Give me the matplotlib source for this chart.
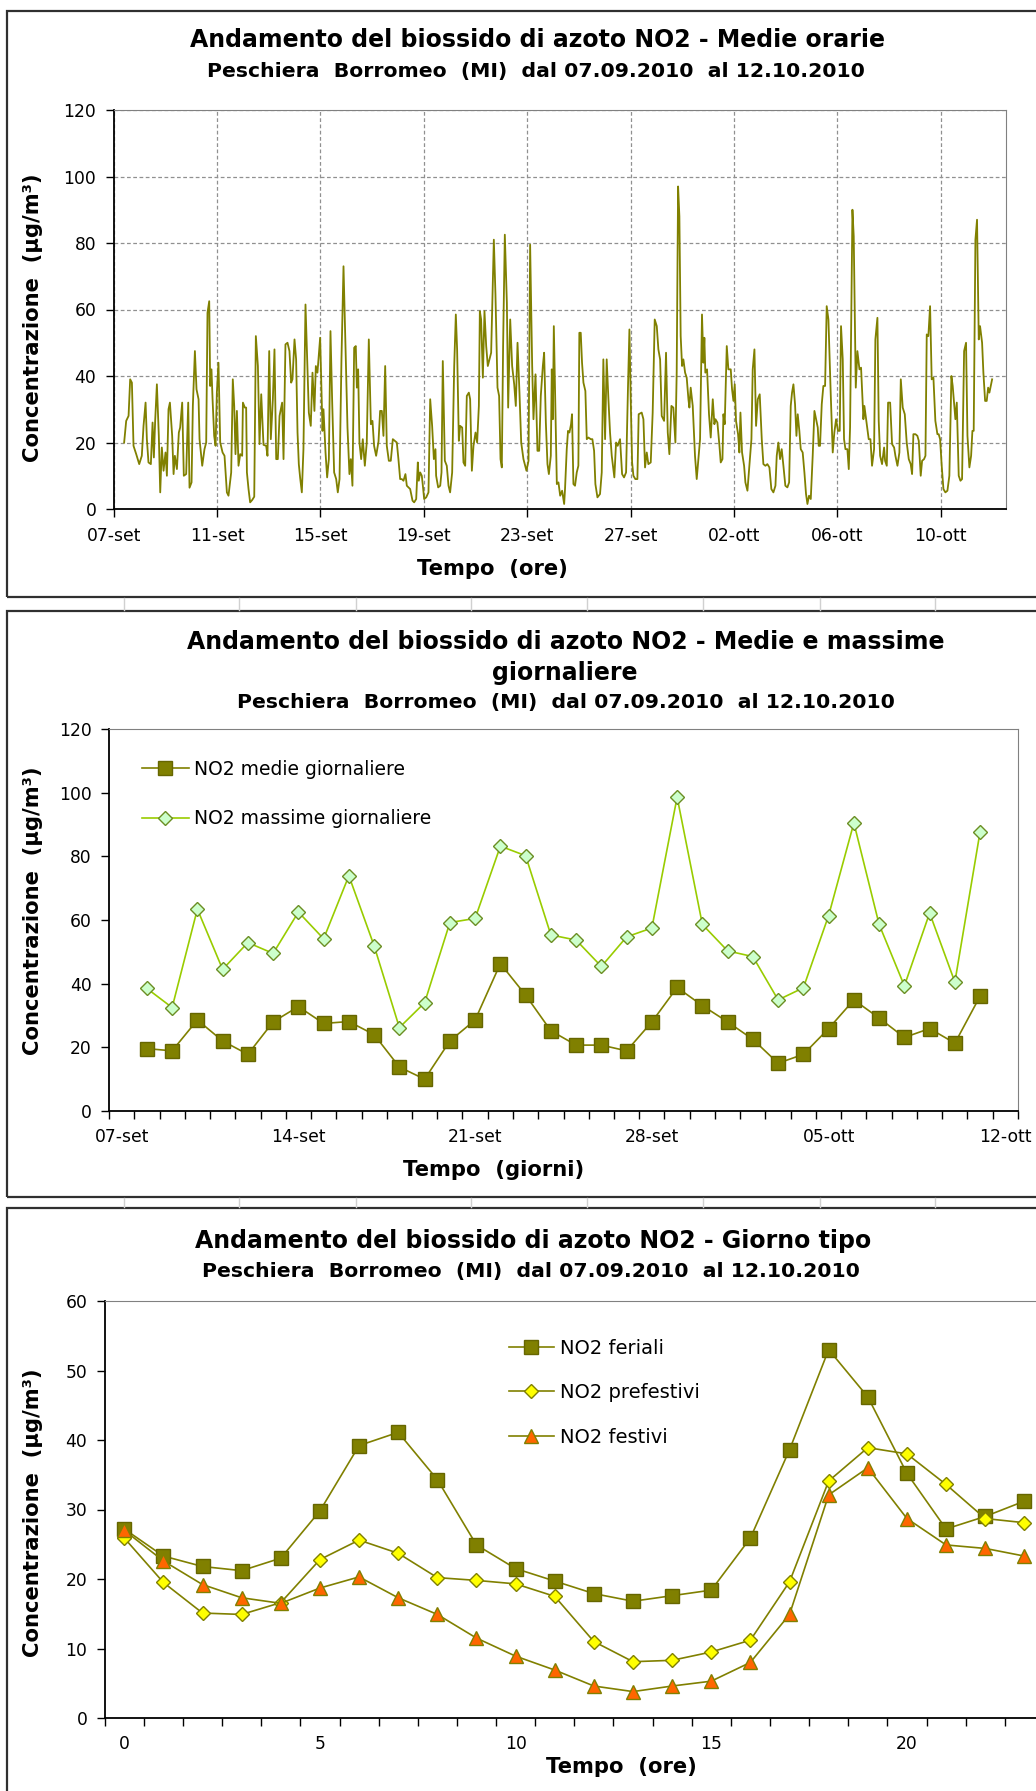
import numpy as np
import matplotlib
matplotlib.use('Agg')
from matplotlib import pyplot as plt
from matplotlib.patches import Rectangle
from matplotlib.lines import Line2D

# ---- data ----
# panel 1: hourly means (hours from 07-set 00:00)
ore_orarie = [
    9.7, 11.6, 13.8, 15.3, 16.9, 18.4, 20.9, 23.7, 26.1, 27.7, 29.6, 30.8, 32.3, 34.5, 36.1, 37.3, 38.5, 40.1,
    41.9, 43.2, 44.7, 46.3, 48.1, 49.4, 50.9, 52.2, 54.3, 55.6, 56.8, 58.7, 60.5, 61.7, 63.6, 65.1, 67.3, 69.2,
    70.4, 72.3, 73.5, 75.4, 76.9, 78.8, 79.7, 82.2, 84.3, 85.9, 87.1, 88.7, 89.6, 90.8, 91.8, 93.3, 94.6, 95.8,
    97.3, 98.9, 101.1, 102.9, 105.1, 106.6, 109.1, 110.6, 111.9, 113.1, 114.4, 115.9, 117.5, 119.3, 120.0, 121.8,
    123.0, 123.7, 125.2, 126.7, 128.6, 130.5, 132.0, 133.9, 135.4, 137.0, 139.1,
    141.6, 142.8, 144.4, 145.9, 147.8, 149.3, 150.9, 152.4, 154.0, 156.4, 157.7, 159.5, 161.4, 163.2, 164.8, 166.0,
    167.9, 169.4, 170.7, 171.9, 173.1, 174.7, 176.2, 178.1, 179.3, 181.2, 183.0, 184.6, 186.4, 187.7, 189.2, 190.5,
    191.7, 192.9, 193.9, 194.8, 196.7, 198.2, 199.8, 201.3, 202.9, 204.7, 206.6, 208.1, 209.7, 211.5, 213.4, 215.2,
    217.1, 218.9, 220.2, 221.7, 223.3, 224.8, 225.8, 227.0, 228.2, 229.8, 231.3, 233.2, 235.0, 236.9, 238.8, 240.3,
    241.8, 243.7, 245.9, 247.4, 249.0, 250.5, 252.1, 253.6, 255.5, 257.3, 259.2, 261.0, 262.9, 264.4, 266.0, 267.5,
    269.1, 270.9, 272.2, 275.3, 277.5, 279.0, 280.9,
    282.4, 283.3, 284.6, 286.1, 287.1, 288.3, 290.2, 292.3, 293.9, 295.7, 297.3, 298.8, 299.4, 301.3, 303.2, 304.4,
    305.6, 307.5, 309.3, 310.9, 312.4, 314.3, 316.2, 317.7, 318.9, 320.5, 321.7, 323.6, 324.8, 326.4, 327.9, 329.8,
    331.0, 332.6, 334.1, 336.0, 337.5, 339.1, 340.0, 341.2, 342.8, 344.3, 345.9, 347.4, 349.0, 350.5, 353.0, 354.5,
    356.4, 357.9, 359.2, 360.4, 361.6, 363.2, 365.1, 366.3, 368.2, 370.0, 371.9, 373.4, 375.0, 376.8, 378.4, 380.5,
    382.1, 383.3, 385.2, 386.7, 388.6, 389.8, 391.7, 393.5, 395.1, 396.6, 398.5, 399.7, 401.3, 402.8, 404.1, 405.9,
    406.8, 407.8, 408.7, 409.9, 411.5, 413.0, 414.6, 416.4, 418.3,
    419.1, 420.7, 421.9, 423.2, 424.7, 425.6, 426.9, 428.4, 430.0, 431.5, 432.4, 433.7, 434.9, 436.2, 438.0, 439.3,
    440.8, 443.0, 444.5, 446.1, 447.3, 449.2, 451.6, 453.2, 454.7, 456.3, 457.8, 459.4, 460.9, 462.5, 464.9, 466.5,
    468.0, 470.2, 472.1, 473.9, 475.8, 477.6, 478.9, 480.1, 481.4, 482.6, 484.4, 486.3, 487.5, 490.3, 491.9, 493.4,
    495.0, 496.5, 498.7, 500.5, 502.4, 504.3, 505.8, 507.4, 508.9, 511.1, 512.9, 514.5, 516.0, 517.9, 519.7, 521.6,
    522.8, 524.1, 525.3, 526.5, 527.8, 529.0, 530.6, 532.1, 533.7, 534.6, 535.8, 537.7, 539.8, 541.4, 542.6, 544.5,
    546.3, 547.6, 548.5, 549.4, 551.0, 552.8, 554.4, 556.3, 557.8,
    558.8, 560.6, 562.5, 563.7, 565.3, 566.2, 567.4, 569.3, 570.8, 573.0, 574.2, 575.5, 576.7, 577.9, 579.8, 581.0,
    582.0, 583.5, 585.4, 586.6, 588.5, 590.3, 592.2, 593.4, 595.0, 596.5, 598.1, 599.9, 601.8, 603.3, 605.2, 607.0,
    608.9, 610.7, 612.6, 614.5, 615.7, 617.2, 618.8, 620.3, 621.9, 623.7, 625.6, 627.2, 628.7, 629.9, 631.2, 632.7,
    634.0, 635.2, 636.7, 638.0, 639.8, 641.4, 642.9, 644.2, 645.7, 647.3, 649.1, 650.7, 652.2, 653.8, 654.7, 655.9,
    657.5, 659.0, 660.6, 662.1, 663.7, 665.8, 667.7, 669.2, 670.8, 672.6, 674.2, 675.4, 677.0, 678.2, 679.5, 681.3,
    682.6, 683.8, 686.0, 687.2, 689.1, 690.6, 692.5, 694.0, 696.2, 697.1,
    698.7, 699.9, 701.1, 702.7, 704.2, 706.1, 707.3, 709.2, 710.4, 711.7, 713.5, 715.4, 716.3, 717.9, 719.1, 721.0,
    722.8, 724.7, 725.9, 727.8, 729.6, 730.9, 732.7, 734.6, 736.4, 738.3, 740.1, 741.4, 742.6, 744.5, 746.3, 747.6,
    749.4, 750.7, 752.5, 753.8, 755.0, 756.5, 758.1, 759.6, 761.2, 763.0, 764.9, 766.1, 767.4, 768.9, 770.5, 772.3,
    774.2, 776.0, 777.9, 779.1, 780.4, 781.6, 782.9, 784.7, 786.3, 787.8, 789.7, 791.5, 792.8, 794.6, 796.2, 797.4,
    798.6, 800.2, 801.7, 803.3, 804.5, 806.4, 807.6, 809.2, 810.7, 812.0, 813.2, 814.4, 815.7]
no2_orario = [
    20, 26.5, 28, 39, 38, 19, 16.5, 13.5, 16, 25, 32, 21, 14, 13.5, 26, 15.5, 26.5, 37.5,
    22, 5, 18.5, 11.5, 17, 10, 30, 32, 22, 10.5, 16, 12, 23, 24.5, 32, 10, 10.5, 32,
    6.4, 8, 31, 47.5, 36, 33, 21, 13, 18, 20, 59, 62.5, 37, 42, 33, 22, 19, 35,
    44, 20, 17, 16, 5, 4, 11, 39, 31, 16.5, 29.5, 13, 16.5, 16, 32, 30.5,
    30.5, 11, 6, 2, 2.7, 3.7, 52, 43, 19.5, 34.5, 19.3,
    19, 16, 47.5, 21, 33, 48, 15, 15, 28, 32, 15, 49.5, 50, 47.5, 38, 39,
    51, 45, 23, 13.5, 9.5, 5, 18, 61.5, 49, 29, 25, 41, 29.5, 43, 41, 46.5,
    51.5, 36, 23.5, 30, 17, 9.5, 15, 53.5, 32, 11, 9, 5, 9, 45, 73, 49,
    24.5, 10.5, 15, 7, 48.5, 49, 36.5, 42, 20, 15, 21, 13, 20, 51, 25.5, 26.5,
    19, 16, 20.3, 29.5, 29.5, 22, 43, 19, 14.5, 14.5, 21, 20.5, 20, 15, 9, 9,
    8.5, 10.5, 7, 6, 2.5, 2, 3,
    14, 8.5, 11, 10, 7, 3, 3.5, 5, 33, 25, 15, 18, 10, 6.5, 7, 11,
    44.5, 14.5, 13, 7, 5, 11, 43, 58.5, 48, 20.5, 25, 24.5, 14, 13, 34, 35,
    33, 11.5, 19, 23, 20, 31, 59.5, 57, 39.5, 59.5, 49, 43, 45, 47, 81, 64.5,
    36.5, 34, 15, 12.5, 49, 82.5, 62, 30.5, 57, 43, 37.5, 31, 50, 35, 20, 15,
    13, 11.5, 14.5, 79.5, 43, 27, 40.5, 17.5, 17.5, 34, 43, 47, 26, 13.5, 10.5, 16,
    42, 27, 55, 35, 7.5, 8, 4, 5.5, 1.5,
    6, 18, 23.5, 23, 25.5, 28.5, 7.5, 7, 11, 13, 53, 53, 44, 38, 35.5, 21,
    21.5, 21, 21, 17.5, 7.5, 3.5, 4.5, 11, 45, 21, 45, 33, 23, 16, 9.5, 20,
    19, 21, 10.5, 9.5, 11, 37, 54, 33, 14, 10, 9, 9, 28.5, 29, 27, 12.5,
    17, 13.5, 14, 29, 57, 55, 48, 45, 28, 26.5, 47, 23, 16.5, 31, 30.5, 20,
    41, 97, 88, 52, 43, 45, 41, 39.5, 33, 30.5, 36.5, 31, 16, 9, 13.5, 21,
    58.5, 44, 51.5, 41, 42, 28.5, 21.5, 33, 25.5,
    27, 26, 19, 14, 15, 28.5, 25.5, 49, 42, 42, 36, 32.5, 37.5, 26.5, 22.5, 17,
    29, 17, 13, 8, 5.5, 13, 21, 42, 48, 25, 33, 34.5, 21, 13.5, 13, 13.5,
    12.5, 6, 5, 7, 16, 20, 15, 18, 13, 7, 6.5, 8, 31, 35, 37.5, 31.5,
    22, 28.5, 23.5, 18, 17, 11, 4.5, 1.5, 4, 3, 16, 29.5, 27, 24.5, 19, 19,
    31.5, 37, 37, 61, 57, 35, 17, 23, 27, 23.5, 23.5, 55, 45, 21, 18, 18,
    12, 24.5, 90, 82, 36.5, 47.5, 42, 42.5, 27, 31,
    27, 24, 21, 21, 13, 18, 51, 57.5, 26.5, 16, 13.5, 18.5, 14.5, 13, 32, 32,
    19.5, 18.5, 16, 13, 17, 39, 30.5, 28.5, 20, 15, 13.5, 10.5, 22.5, 22.5, 22, 20.5,
    10, 14.5, 15, 16, 52.5, 52, 61, 39, 39.5, 26.5, 22.5, 22.5, 21, 13, 6, 5,
    5.5, 10, 40, 37, 32, 27, 32, 10, 8.5, 9, 47.5, 50, 22, 12.5, 16, 23.5,
    23.5, 81, 87, 51, 55, 50, 41, 32.5, 32.5, 36.5, 35, 37, 39]
tick_ore = [0, 96, 192, 288, 384, 480, 576, 672, 768]
etichette_ore = ['07-set', '11-set', '15-set', '19-set', '23-set', '27-set', '02-ott', '06-ott', '10-ott']

# panel 2: daily means and maxima (day index from 07-set)
giorni = list(range(1, 35))
medie_giorn = [19.6, 18.9, 28.6, 22.0, 17.8, 28.0, 32.8, 27.5, 28.1, 24.0, 13.8, 10.0, 22.0, 28.6, 46.3, 36.4, 25.2,
               20.7, 20.7, 18.9, 28.0, 38.8, 33.1, 28.0, 22.5, 15.0, 17.8, 25.9, 34.9, 29.2, 23.1, 25.9, 21.3, 36.1]
massime_giorn = [38.5, 32.5, 63.4, 44.5, 52.9, 49.5, 62.5, 54.1, 73.9, 51.9, 26.2, 34.0, 59.2, 60.5, 83.2, 80.2, 55.3,
                 53.7, 45.4, 54.7, 57.5, 98.6, 58.6, 50.3, 48.5, 34.9, 38.7, 61.4, 90.5, 58.6, 39.3, 62.2, 40.5, 87.8]
tick_giorni = [0, 7, 14, 21, 28, 35]
etichette_giorni = ['07-set', '14-set', '21-set', '28-set', '05-ott', '12-ott']

# panel 3: typical day
ore_giorno = list(range(24))
feriali = [27.2, 23.3, 21.8, 21.2, 23.0, 29.8, 39.2, 41.1, 34.3, 24.9, 21.5, 19.7, 17.9, 16.8, 17.6, 18.4, 25.9,
           38.6, 53.0, 46.2, 35.2, 27.2, 29.0, 31.2]
prefestivi = [25.9, 19.5, 15.1, 14.9, 16.6, 22.8, 25.6, 23.7, 20.2, 19.8, 19.3, 17.5, 11.0, 8.1, 8.3, 9.5, 11.2,
              19.6, 34.1, 38.9, 38.0, 33.6, 28.7, 28.1]
festivi = [27.0, 22.6, 19.2, 17.3, 16.5, 18.7, 20.3, 17.3, 14.9, 11.5, 8.9, 6.9, 4.6, 3.8, 4.6, 5.3, 8.0,
           14.9, 32.1, 36.0, 28.7, 24.9, 24.4, 23.3]

W, H = 1036, 1791
OLIVE = '#808000'
TITOLO = 17
SOTTOTITOLO = 14.7
ETICHETTA = 15.2
TICK = 12.3


def ax_px(left, top, right, bottom):
    return [left / W, 1 - bottom / H, (right - left) / W, (bottom - top) / H]


def ftext(x, y, s, **kw):
    fig.text(x / W, 1 - y / H, s, ha='center', va='center', **kw)


def style_axis(ax):
    for sp in ['top', 'right']:
        ax.spines[sp].set_color('#808080')
    for sp in ['left', 'bottom']:
        ax.spines[sp].set_color('black')
        ax.spines[sp].set_linewidth(1.3)
    ax.tick_params(which='both', direction='out', length=6, width=1, labelsize=TICK)
    ax.tick_params(axis='y', pad=6.5)
    ax.tick_params(axis='x', pad=7)


fig = plt.figure(figsize=(W / 100, H / 100), dpi=100)

# frames of the three charts + spreadsheet cell lines between them
for top, bottom in [(11.5, 597), (610.7, 1197), (1208, 1800)]:
    fig.add_artist(Rectangle((7 / W, 1 - bottom / H), 1040 / W, (bottom - top) / H,
                             transform=fig.transFigure, fill=False, edgecolor='#303030', lw=1.6))
for y0, y1 in [(598, 610), (1198, 1207)]:
    for xc in [124, 239, 356, 471, 587, 703, 820, 935]:
        fig.add_artist(Line2D([xc / W, xc / W], [1 - y0 / H, 1 - y1 / H], transform=fig.transFigure,
                              color='#d0d0d0', lw=1))

# ---- panel 1 ----
ax1 = fig.add_axes(ax_px(113.7, 110, 1006, 509))
ax1.plot(ore_orarie, no2_orario, color=OLIVE, lw=1.3)
ax1.set_xlim(0, 828.6)
ax1.set_ylim(0, 120)
ax1.set_yticks(range(0, 121, 20))
ax1.set_xticks(tick_ore)
ax1.set_xticklabels(etichette_ore)
ax1.grid(True, color='#909090', linestyle=(0, (3, 2)), lw=0.9)
style_axis(ax1)
ftext(537, 40, 'Andamento del biossido di azoto NO2 - Medie orarie', fontsize=TITOLO, fontweight='bold')
ftext(536, 71, 'Peschiera  Borromeo  (MI)  dal 07.09.2010  al 12.10.2010', fontsize=SOTTOTITOLO, fontweight='bold')
ftext(33, 318, 'Concentrazione  (µg/m³)', fontsize=ETICHETTA, fontweight='bold', rotation=90)
ftext(492, 569, 'Tempo  (ore)', fontsize=ETICHETTA, fontweight='bold')

# ---- panel 2 ----
ax2 = fig.add_axes(ax_px(109, 729, 1018, 1111))
ax2.plot(giorni, medie_giorn, color=OLIVE, lw=1.2, marker='s', ms=9.5,
         mfc=OLIVE, mec='#666600', label='NO2 medie giornaliere')
ax2.plot(giorni, massime_giorn, color='#99cc00', lw=1.2, marker='D', ms=7.5,
         mfc='#ccffcc', mec='#6b8e23', label='NO2 massime giornaliere')
ax2.set_xlim(-0.5, 35.5)
ax2.set_ylim(0, 120)
ax2.set_yticks(range(0, 121, 20))
ax2.set_xticks(np.arange(-0.5, 36, 1))
ax2.set_xticklabels([])
ax2.set_xticks(tick_giorni, minor=True)
ax2.set_xticklabels(etichette_giorni, minor=True)
style_axis(ax2)
ax2.tick_params(axis='x', which='minor', length=0, pad=12)
ax2.legend(loc='upper left', bbox_to_anchor=((142 - 109) / 909, (1111 - 760) / 382), frameon=False,
           fontsize=13.5, handlelength=2.5, handletextpad=0.3, labelspacing=1.62, borderpad=0, borderaxespad=0)
ftext(566, 642, 'Andamento del biossido di azoto NO2 - Medie e massime', fontsize=TITOLO, fontweight='bold')
ftext(565, 673, 'giornaliere', fontsize=TITOLO, fontweight='bold')
ftext(566, 703, 'Peschiera  Borromeo  (MI)  dal 07.09.2010  al 12.10.2010', fontsize=SOTTOTITOLO, fontweight='bold')
ftext(33, 911, 'Concentrazione  (µg/m³)', fontsize=ETICHETTA, fontweight='bold', rotation=90)
ftext(494, 1170, 'Tempo  (giorni)', fontsize=ETICHETTA, fontweight='bold')

# ---- panel 3 ----
ax3 = fig.add_axes(ax_px(104.7, 1301, 1043.9, 1718))
ax3.plot(ore_giorno, feriali, color=OLIVE, lw=1.2, marker='s', ms=9.5,
         mfc=OLIVE, mec='#666600', label='NO2 feriali')
ax3.plot(ore_giorno, prefestivi, color=OLIVE, lw=1.2, marker='D', ms=7.5,
         mfc='#ffff00', mec=OLIVE, label='NO2 prefestivi')
ax3.plot(ore_giorno, festivi, color=OLIVE, lw=1.2, marker='^', ms=9.5,
         mfc='#ff6600', mec=OLIVE, label='NO2 festivi')
ax3.set_xlim(-0.5, 23.5)
ax3.set_ylim(0, 60)
ax3.set_yticks(range(0, 61, 10))
ax3.set_xticks(np.arange(-0.5, 24, 1))
ax3.set_xticklabels([])
ax3.set_xticks([0, 5, 10, 15, 20], minor=True)
ax3.set_xticklabels(['0', '5', '10', '15', '20'], minor=True)
style_axis(ax3)
ax3.tick_params(axis='x', which='minor', length=0, pad=12)
ax3.legend(loc='upper left', bbox_to_anchor=((509 - 104.7) / 939.2, (1718 - 1339) / 417), frameon=False,
           fontsize=14, handlelength=2.3, handletextpad=0.3, labelspacing=1.3, borderpad=0, borderaxespad=0)
ftext(533, 1241, 'Andamento del biossido di azoto NO2 - Giorno tipo', fontsize=TITOLO, fontweight='bold')
ftext(531, 1272, 'Peschiera  Borromeo  (MI)  dal 07.09.2010  al 12.10.2010', fontsize=SOTTOTITOLO, fontweight='bold')
ftext(33, 1513, 'Concentrazione  (µg/m³)', fontsize=ETICHETTA, fontweight='bold', rotation=90)
ftext(621, 1767, 'Tempo  (ore)', fontsize=ETICHETTA, fontweight='bold')

plt.savefig('out.png', dpi=100)
